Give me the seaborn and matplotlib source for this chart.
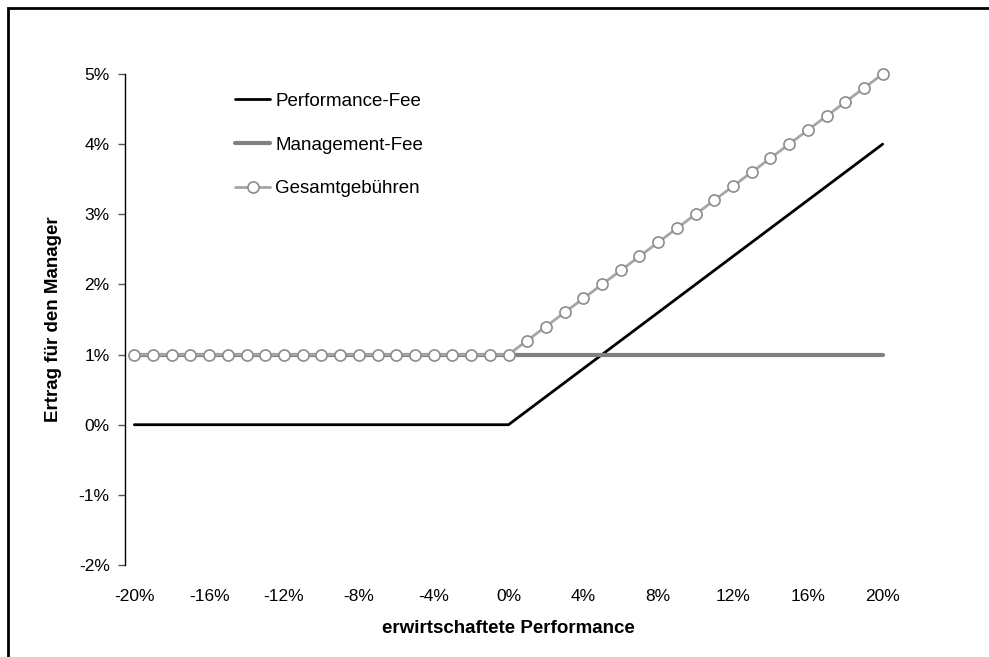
import matplotlib
matplotlib.use("Agg")
import matplotlib.pyplot as plt
from matplotlib.patches import Rectangle
from matplotlib.ticker import FuncFormatter
import seaborn as sns
import pandas as pd

# erwirtschaftete Performance (%), eine Kategorie je Prozentpunkt
performance = [-20, -19, -18, -17, -16, -15, -14, -13, -12, -11, -10,
               -9, -8, -7, -6, -5, -4, -3, -2, -1, 0,
               1, 2, 3, 4, 5, 6, 7, 8, 9, 10,
               11, 12, 13, 14, 15, 16, 17, 18, 19, 20]

# Ertrag für den Manager (%)
performance_fee = [0.0, 0.0, 0.0, 0.0, 0.0, 0.0, 0.0, 0.0, 0.0, 0.0, 0.0,
                   0.0, 0.0, 0.0, 0.0, 0.0, 0.0, 0.0, 0.0, 0.0, 0.0,
                   0.2, 0.4, 0.6, 0.8, 1.0, 1.2, 1.4, 1.6, 1.8, 2.0,
                   2.2, 2.4, 2.6, 2.8, 3.0, 3.2, 3.4, 3.6, 3.8, 4.0]
management_fee = [1.0] * 41
gesamt = [1.0, 1.0, 1.0, 1.0, 1.0, 1.0, 1.0, 1.0, 1.0, 1.0, 1.0,
          1.0, 1.0, 1.0, 1.0, 1.0, 1.0, 1.0, 1.0, 1.0, 1.0,
          1.2, 1.4, 1.6, 1.8, 2.0, 2.2, 2.4, 2.6, 2.8, 3.0,
          3.2, 3.4, 3.6, 3.8, 4.0, 4.2, 4.4, 4.6, 4.8, 5.0]

x_ticks = [-20, -16, -12, -8, -4, 0, 4, 8, 12, 16, 20]
y_ticks = [-2, -1, 0, 1, 2, 3, 4, 5]

df = pd.DataFrame({
    "perf": performance,
    "Performance-Fee": performance_fee,
    "Management-Fee": management_fee,
    "Gesamtgebühren": gesamt,
})

sns.set_style("white")
plt.rcParams["font.family"] = ["Liberation Sans", "DejaVu Sans"]
plt.rcParams["text.color"] = "black"
plt.rcParams["axes.labelcolor"] = "black"
plt.rcParams["xtick.color"] = "black"
plt.rcParams["ytick.color"] = "black"

fig = plt.figure(figsize=(9.89, 6.57), dpi=100)
ax = fig.add_axes([125 / 989, 1 - 565 / 657, (892 - 125) / 989, (565 - 74) / 657])

sns.lineplot(data=df, x="perf", y="Performance-Fee", ax=ax, color="black",
             linewidth=2, label="Performance-Fee")
sns.lineplot(data=df, x="perf", y="Management-Fee", ax=ax, color="#808080",
             linewidth=3, label="Management-Fee")
sns.lineplot(data=df, x="perf", y="Gesamtgebühren", ax=ax, color="#A6A6A6",
             linewidth=2, marker="o", markersize=8, markerfacecolor="white",
             markeredgecolor="#8C8C8C", markeredgewidth=1.2, label="Gesamtgebühren",
             clip_on=False)

ax.set_xlim(-20.5, 20.5)
ax.set_ylim(-2, 5)
ax.set_xticks(x_ticks)
ax.set_yticks(y_ticks)
ax.xaxis.set_major_formatter(FuncFormatter(lambda v, p: f"{v:.0f}%"))
ax.yaxis.set_major_formatter(FuncFormatter(lambda v, p: f"{v:.0f}%"))

for s in ["top", "right", "bottom"]:
    ax.spines[s].set_visible(False)
ax.spines["left"].set_color("black")
ax.spines["left"].set_linewidth(1)

ax.tick_params(axis="y", direction="out", length=5, width=1, color="#555555",
               pad=6, labelsize=12.5, left=True)
ax.tick_params(axis="x", length=0, pad=17, labelsize=12.5)

ax.set_xlabel("erwirtschaftete Performance", fontsize=13.5, fontweight="bold", labelpad=12)
ax.set_ylabel("Ertrag für den Manager", fontsize=13.5, fontweight="bold")
ax.yaxis.set_label_coords(-0.082, 0.5)

leg = ax.legend(loc="upper left", bbox_to_anchor=(0.1434, 0.962), frameon=False,
                fontsize=13.5, handlelength=1.87, handletextpad=0.27,
                labelspacing=1.42, borderpad=0, borderaxespad=0)

# Rahmen um die Grafik
fig.patches.append(Rectangle((8 / 989, -0.1), 1.2, 1 - 8 / 657 + 0.1,
                             transform=fig.transFigure, fill=False,
                             edgecolor="black", linewidth=2, clip_on=False))

fig.savefig("out.png", dpi=100)
